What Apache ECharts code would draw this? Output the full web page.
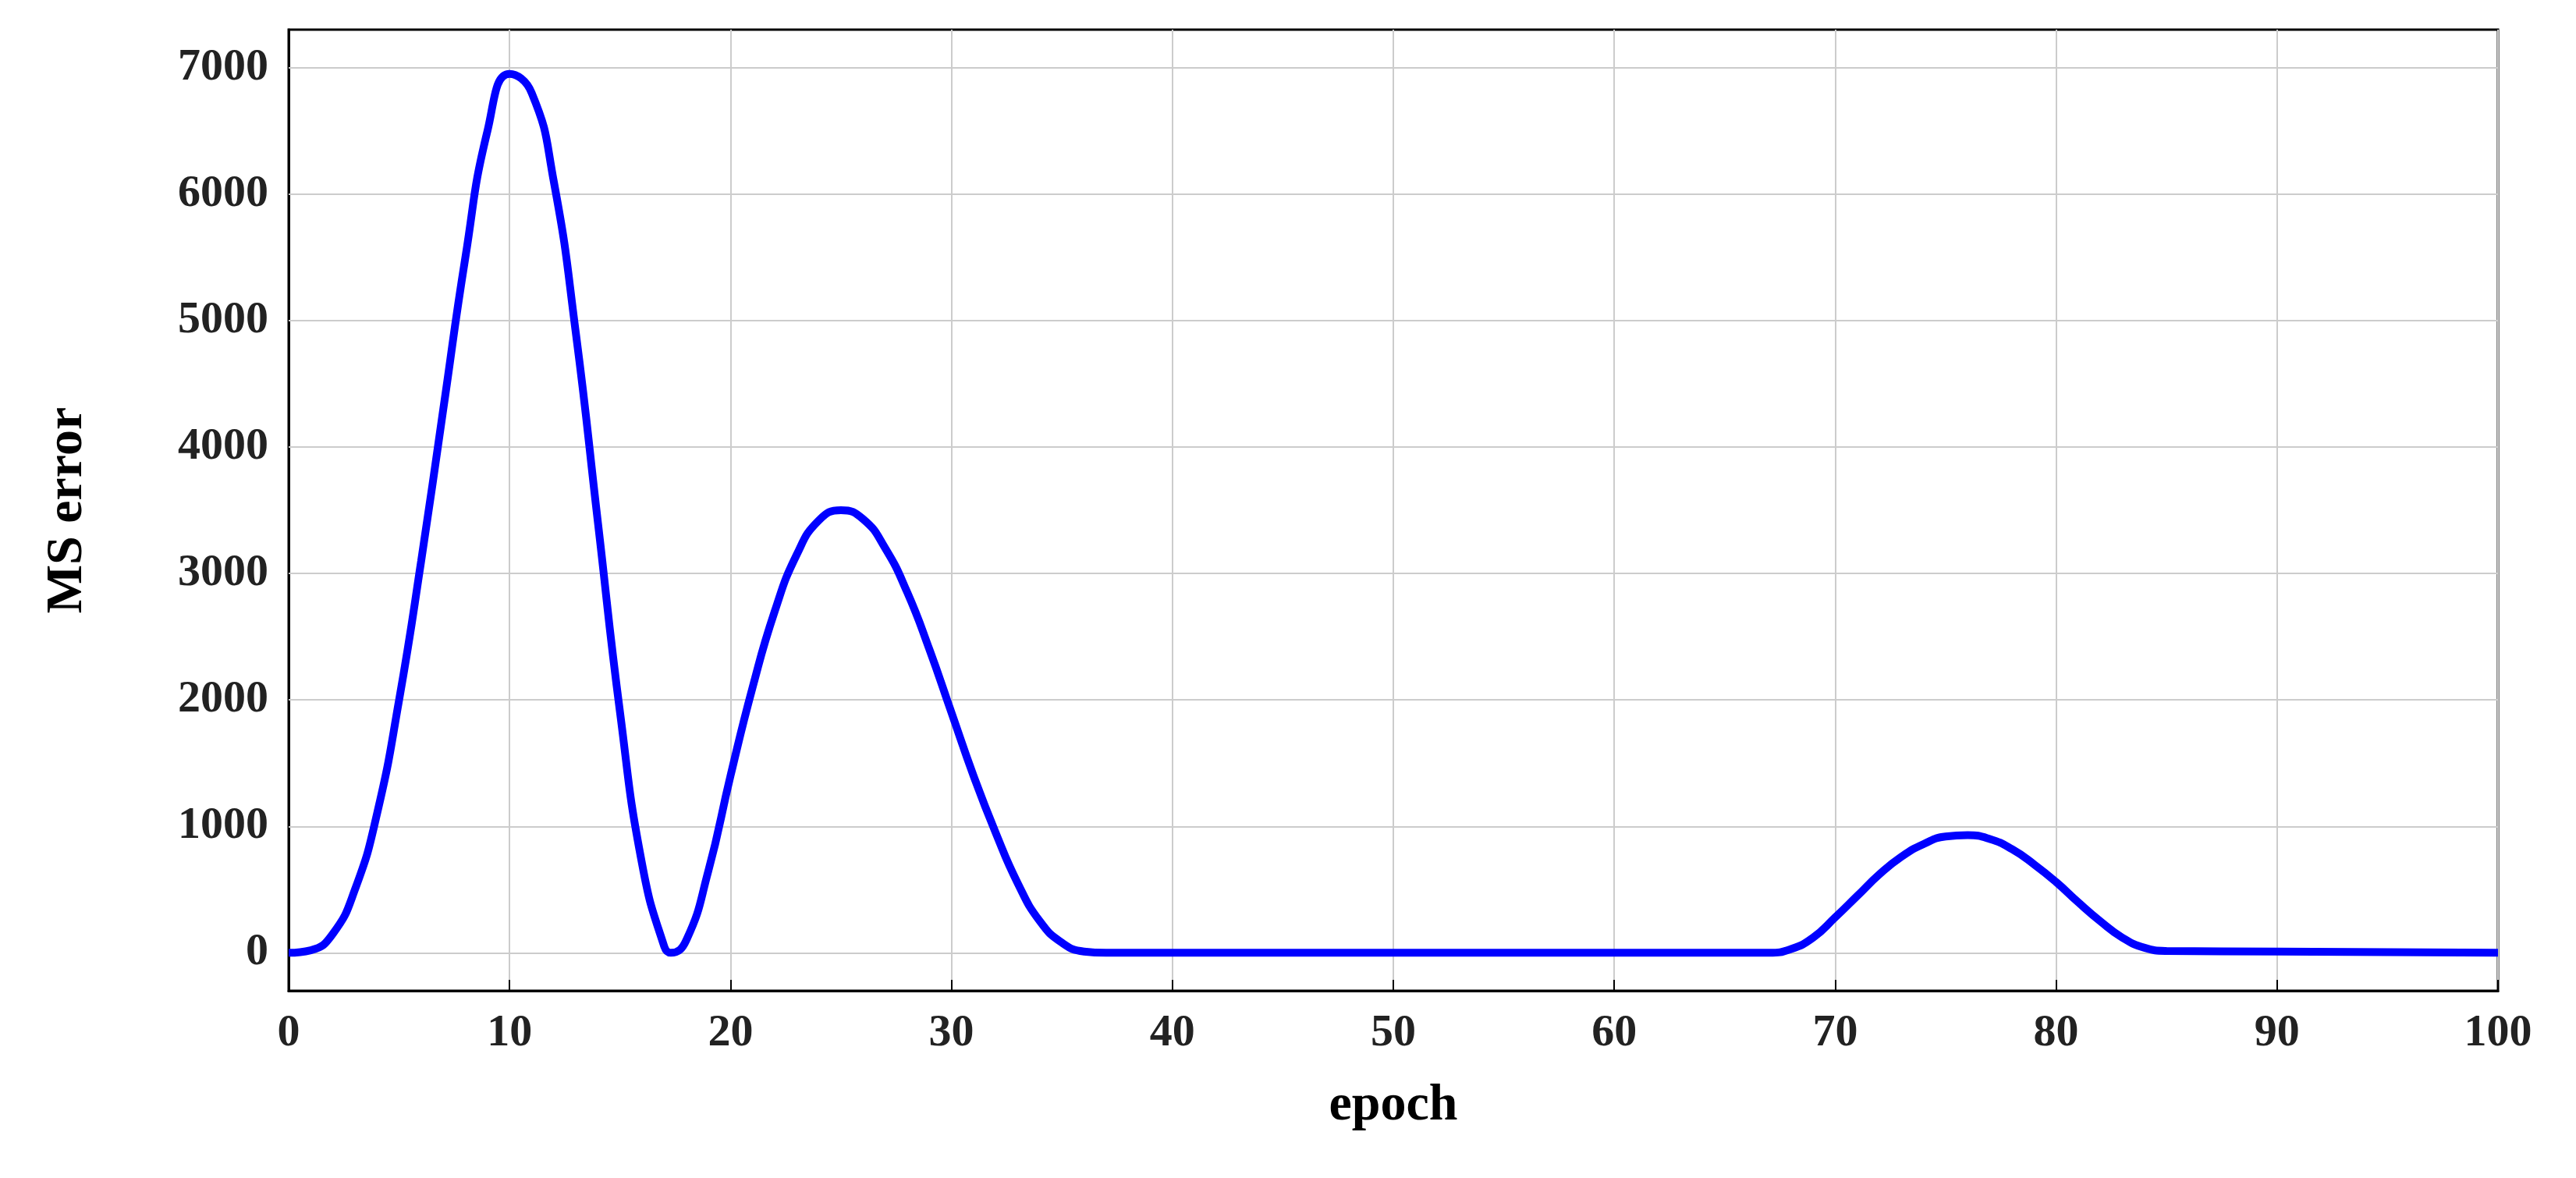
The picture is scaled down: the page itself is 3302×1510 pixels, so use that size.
<!DOCTYPE html>
<html>
<head>
<meta charset="utf-8">
<script src="https://cdn.jsdelivr.net/npm/echarts@6/dist/echarts.min.js"></script>
<style>html,body{margin:0;padding:0;background:#fff}#container{width:3302px;height:1510px}</style>
</head>
<body>
<div id="container"></div>
<script>
var epochs = [0,1,2,3,4,5,6,7,8,9,10,11,12,13,14,15,16,17,17.3,18,19,20,21,22,23,24,25,26,27,28,29,30,31,32,33,34,35,36,37,45,55,67,68,69,70,71,72,73,74,75,76,77,78,79,80,81,82,83,84,85,90,100];
var msError = [0,20,150,500,1100,2000,3100,4300,5500,6500,6950,6800,6100,4900,3400,1900,700,50,0,100,650,1400,2100,2700,3150,3420,3500,3430,3200,2850,2400,1900,1400,950,550,250,80,10,0,0,0,0,30,120,280,450,620,760,860,920,930,900,820,700,560,400,250,120,40,15,10,0];
var yTicks = [0,1000,2000,3000,4000,5000,6000,7000];

var data = epochs.map(function (e, i) { return [e, msError[i]]; });
var font = 'Liberation Serif';
var myChart = echarts.init(document.getElementById('container'));

var option = {
    animation: false,
    grid: { left: 370, right: 100, top: 38, bottom: 240, show: true, borderColor: '#000', borderWidth: 3 },
    xAxis: {
        type: 'value', min: 0, max: 100, interval: 10,
        name: 'epoch', nameLocation: 'middle', nameGap: 115,
        nameTextStyle: { fontFamily: font, fontWeight: 'bold', fontSize: 66, color: '#000' },
        axisLine: { onZero: false, lineStyle: { color: '#000', width: 3 } },
        axisTick: { inside: true, length: 14, lineStyle: { color: '#000', width: 2 } },
        axisLabel: { fontFamily: font, fontWeight: 'bold', fontSize: 58, color: '#222', margin: 26, formatter: function (v) { return String(v); } },
        splitLine: { show: true, lineStyle: { color: '#ccc', width: 2 } }
    },
    yAxis: {
        type: 'value', min: -300, max: 7300,
        name: 'MS error', nameLocation: 'middle', nameGap: 250,
        nameTextStyle: { fontFamily: font, fontWeight: 'bold', fontSize: 66, color: '#000' },
        axisLine: { show: true, onZero: false, lineStyle: { color: '#000', width: 3 } },
        axisTick: { show: true, inside: true, length: 14, customValues: yTicks, lineStyle: { color: '#000', width: 2 } },
        axisLabel: { fontFamily: font, fontWeight: 'bold', fontSize: 58, color: '#222', margin: 26, customValues: yTicks, formatter: function (v) { return String(v); } },
        splitLine: { show: false }
    },
    series: [{
        type: 'line', data: data, smooth: 0.5, showSymbol: false,
        lineStyle: { color: '#0000ff', width: 10 },
        markLine: {
            silent: true, symbol: 'none', label: { show: false },
            lineStyle: { color: '#ccc', width: 2, type: 'solid' },
            data: yTicks.map(function (v) { return { yAxis: v }; })
        },
        z: 5
    }]
};
myChart.setOption(option);
</script>
</body>
</html>
